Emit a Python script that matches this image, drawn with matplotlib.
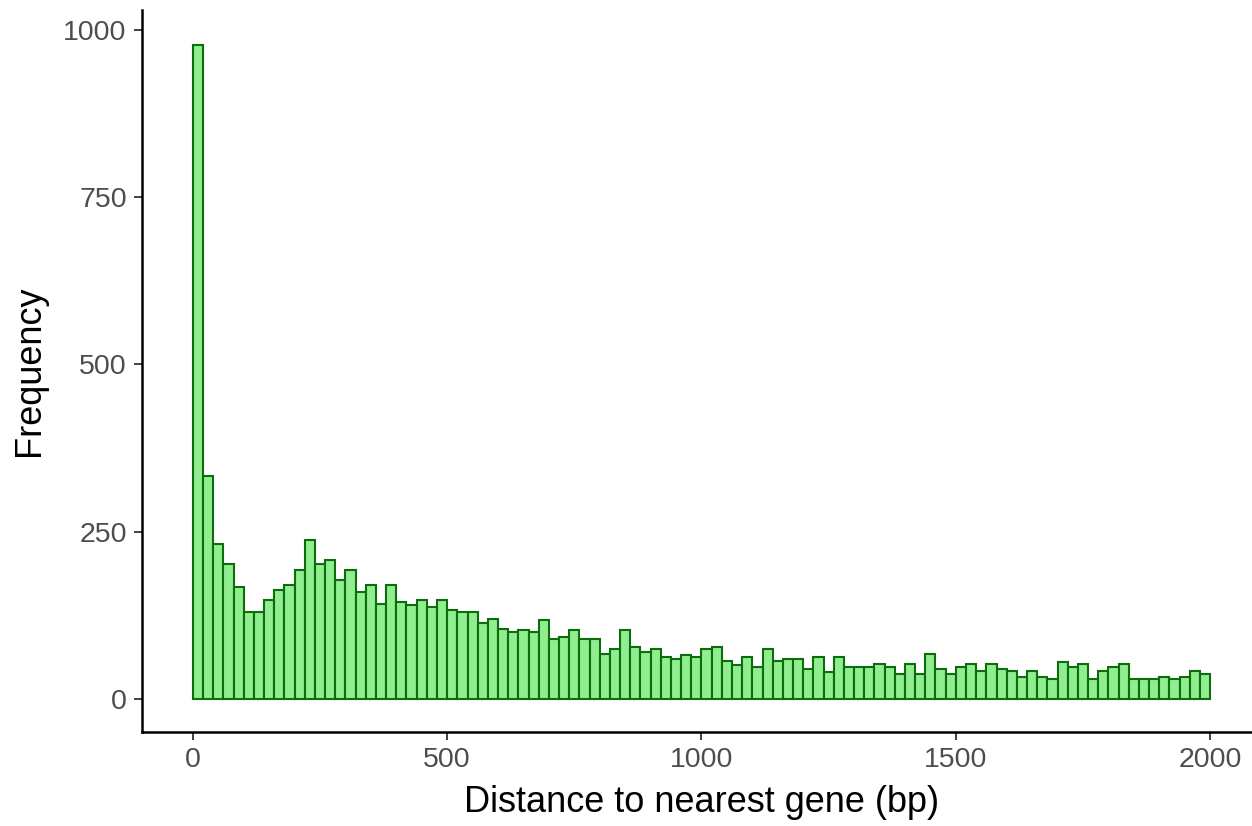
import numpy as np
import matplotlib
matplotlib.use("Agg")
import matplotlib.pyplot as plt

plt.rcParams['font.family'] = ['Liberation Sans', 'DejaVu Sans']

# histogram of distance to nearest gene, 20 bp bins from 0 to 2000
bin_edges = np.arange(0, 2001, 20)
counts = [978, 333, 232, 202, 167, 129, 129, 148, 162, 170,
          193, 237, 202, 207, 178, 192, 159, 170, 141, 170,
          144, 140, 148, 137, 148, 133, 129, 129, 114, 119,
          104, 100, 103, 100, 118, 89, 93, 103, 89, 89,
          67, 75, 103, 78, 70, 75, 63, 59, 66, 63,
          74, 78, 56, 51, 62, 48, 74, 56, 59, 59,
          44, 62, 40, 62, 47, 47, 47, 52, 48, 37,
          52, 37, 67, 44, 37, 48, 52, 41, 52, 44,
          41, 33, 41, 33, 29, 55, 48, 52, 29, 41,
          48, 52, 29, 29, 29, 33, 29, 33, 41, 37]
x_ticks = [0, 500, 1000, 1500, 2000]
y_ticks = [0, 250, 500, 750, 1000]

fig = plt.figure(figsize=(12.52, 8.26), dpi=100)
ax = fig.add_axes([0.1134, 0.1144, 0.8938, 0.8735])

ax.bar(bin_edges[:-1], counts, width=20, align='edge',
       color='#90EE90', edgecolor='#0b6e0b', linewidth=1.5)

ax.set_xlim(-100, 2100)
ax.set_ylim(-49, 1030)
ax.set_xticks(x_ticks)
ax.set_yticks(y_ticks)

for s in ['top', 'right']:
    ax.spines[s].set_visible(False)
for s in ['left', 'bottom']:
    ax.spines[s].set_linewidth(1.8)
    ax.spines[s].set_color('black')

ax.tick_params(axis='both', length=6, width=1.3, color='#333333',
               labelsize=20.5, labelcolor='#4D4D4D', pad=5)

ax.set_xlabel('Distance to nearest gene (bp)', fontsize=26, labelpad=9)
ax.set_ylabel('Frequency', fontsize=26, labelpad=12)

fig.savefig('out.png', dpi=100)
